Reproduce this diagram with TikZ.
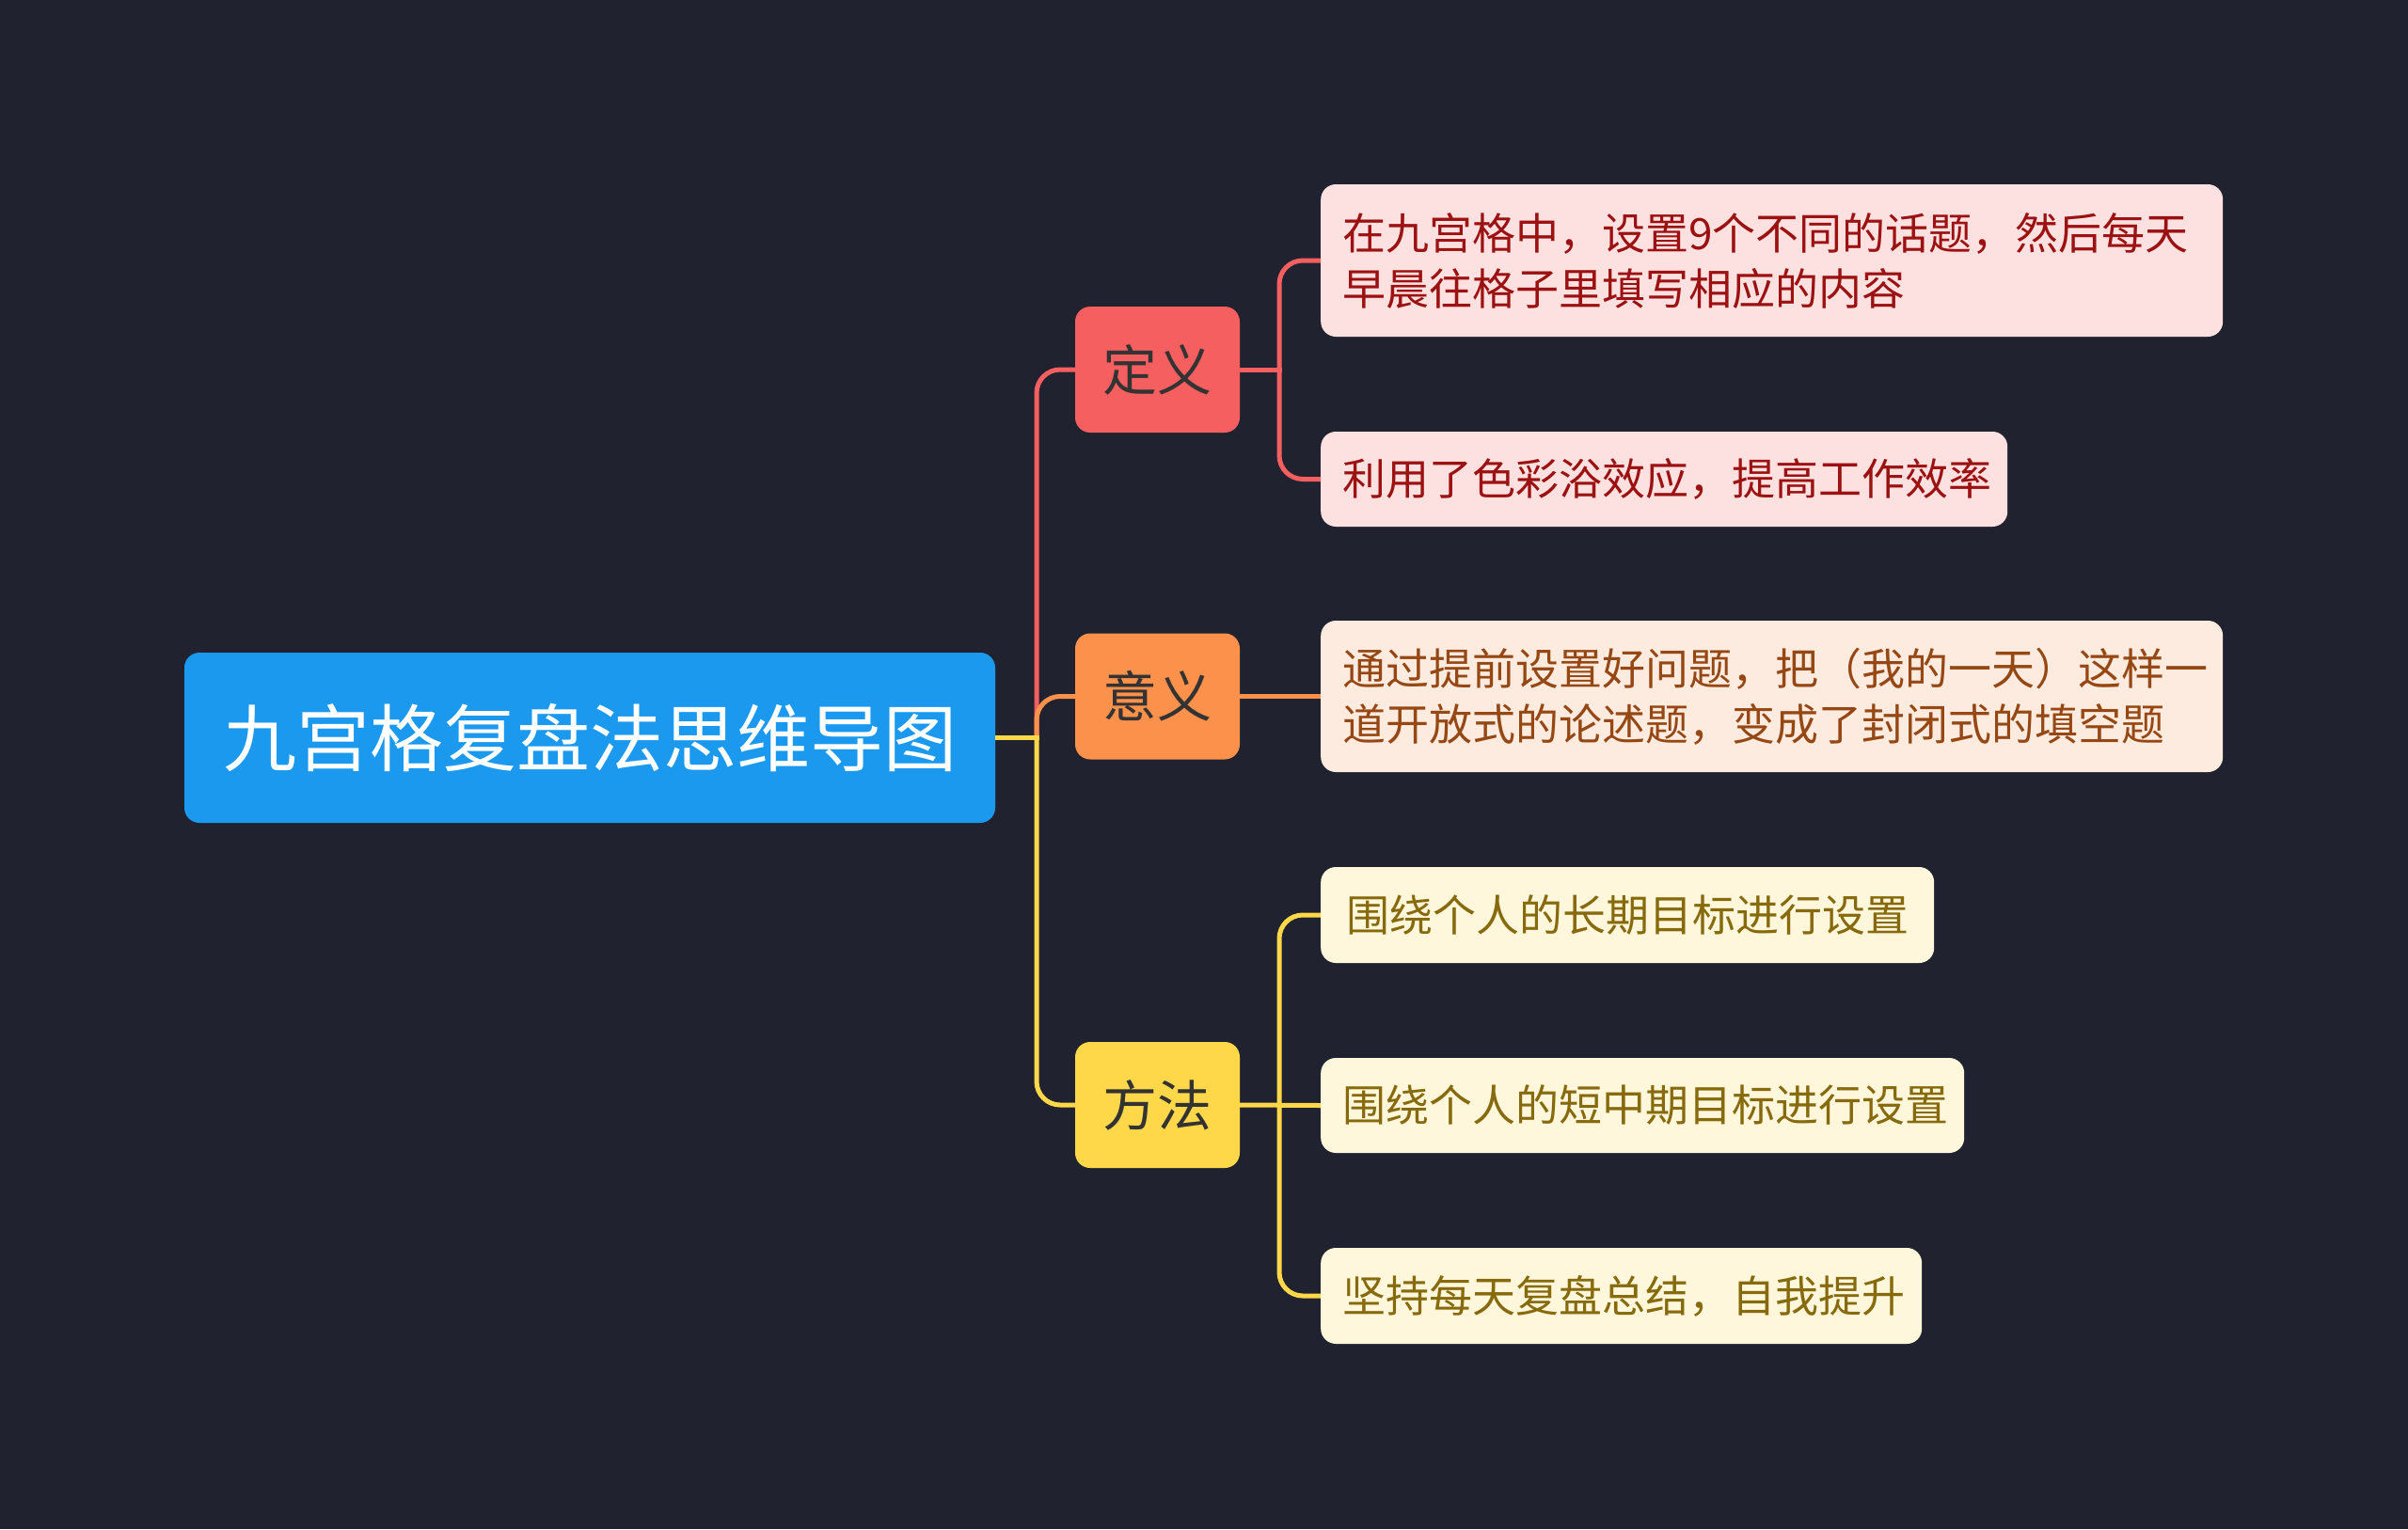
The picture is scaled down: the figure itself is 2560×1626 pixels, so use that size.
\documentclass[tikz,border=0pt]{standalone}
\usepackage{fontspec}
\setmainfont{Noto Sans CJK SC}
\definecolor{bg}{HTML}{20232F}
\definecolor{rootc}{HTML}{1A99EF}
\definecolor{redc}{HTML}{F55F5F}
\definecolor{orac}{HTML}{FC914B}
\definecolor{yelc}{HTML}{FFD84A}
\definecolor{pinkf}{HTML}{FDE1E1}
\definecolor{peachf}{HTML}{FDEBE0}
\definecolor{creamf}{HTML}{FEF7DC}
\definecolor{redt}{HTML}{9C1111}
\definecolor{brownt}{HTML}{964814}
\definecolor{olivet}{HTML}{876A0C}
\definecolor{darkt}{HTML}{333333}
\begin{document}
\begin{tikzpicture}[x=1pt,y=-1pt,
  rootbox/.style={rectangle,rounded corners=16pt,fill=rootc,text=white,minimum width=862pt,minimum height=181pt,inner sep=0pt,font=\fontsize{78}{90}\selectfont},
  mainbox/.style={rectangle,rounded corners=16pt,text=darkt,minimum width=175pt,minimum height=134pt,inner sep=0pt,font=\fontsize{58}{70}\selectfont},
  leafbox/.style={rectangle,rounded corners=16pt,inner xsep=23pt,inner ysep=0pt,anchor=west,font=\fontsize{46}{59}\selectfont},
  conn/.style={line width=5pt,rounded corners=25pt},
  stem/.style={line width=5pt}]
\fill[bg] (0,0) rectangle (2560,1626);
\useasboundingbox (0,0) rectangle (2560,1626);
% nodes
\node[rootbox] (root) at (627,784.5) {九宫格复盘法思维导图};
\node[mainbox,fill=redc] (dy) at (1230.5,393) {定义};
\node[mainbox,fill=orac] (yy) at (1230.5,740.5) {意义};
\node[mainbox,fill=yelc] (ff) at (1230.5,1175) {方法};
\node[leafbox,fill=pinkf,text=redt,text width=913pt,align=left,minimum height=162pt] (l1) at (1404,277) {在九宫格中，设置9个不同的话题，然后每天\\早晨往格子里填写相应的内容};
\node[leafbox,fill=pinkf,text=redt,text width=684pt,align=left,minimum height=101pt] (l2) at (1404,509.5) {利用了色彩浴效应，提高工作效率};
\node[leafbox,fill=peachf,text=brownt,text width=913pt,align=left,minimum height=161pt] (l3) at (1404,740.5) {通过提前设置好问题，把（我的一天）这样一\\道开放式的论述题，变成了封闭式的填空题};
\node[leafbox,fill=creamf,text=olivet,text width=606pt,align=center,minimum height=102pt] (l4) at (1404,973) {围绕个人的长期目标进行设置};
\node[leafbox,fill=creamf,text=olivet,text width=638pt,align=center,minimum height=101pt] (l5) at (1404,1175.5) {围绕个人的短中期目标进行设置};
\node[leafbox,fill=creamf,text=olivet,text width=593pt,align=center,minimum height=102pt] (l6) at (1404,1378) {坚持每天复盘总结，自我提升};
% junctions
\coordinate (j0) at (1102,784.5);
\coordinate (j1) at (1360,393);
\coordinate (j3) at (1360,1175);
% connectors
\draw[conn,redc] (j0) |- (dy.west);
\draw[conn,orac] (j0) |- (yy.west);
\draw[conn,yelc] (j0) |- (ff.west);
\draw[stem,yelc] (root.east) -- ([xshift=2.5pt]j0);
\draw[conn,redc] (j1) |- (l1.west);
\draw[conn,redc] (j1) |- (l2.west);
\draw[stem,redc] (dy.east) -- ([xshift=2.5pt]j1);
\draw[stem,orac] (yy.east) -- (l3.west);
\draw[conn,yelc] (j3) |- (l4.west);
\draw[conn,yelc] (j3) |- (l6.west);
\draw[stem,yelc] (ff.east) -- (l5.west);
\end{tikzpicture}
\end{document}
